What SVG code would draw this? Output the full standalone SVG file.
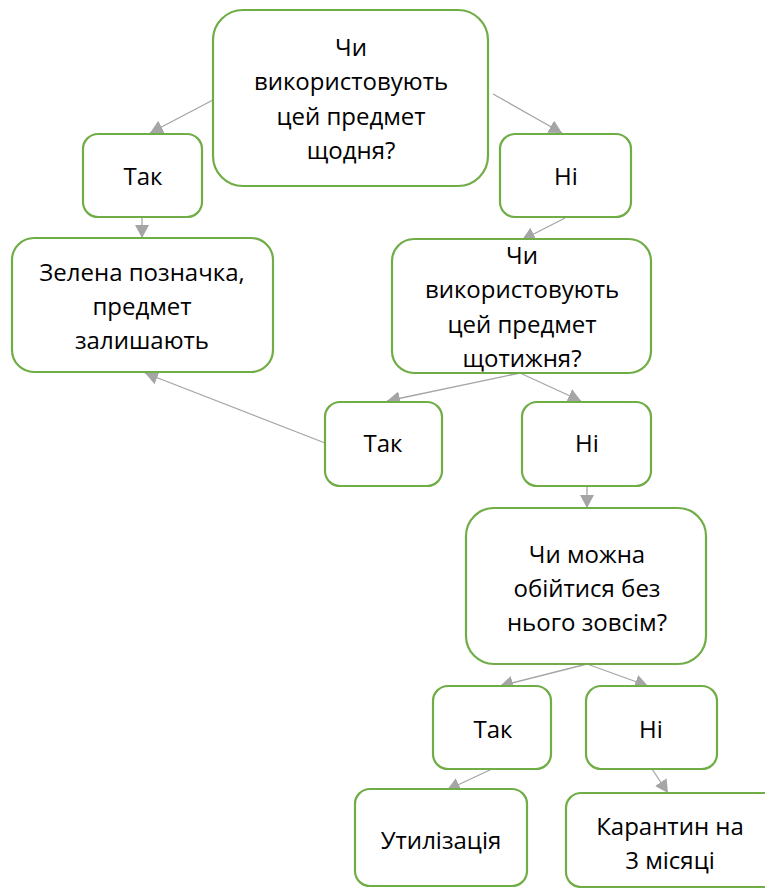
<svg xmlns="http://www.w3.org/2000/svg" width="765" height="888" viewBox="0 0 765 888">
<defs>
<marker id="ah" markerUnits="userSpaceOnUse" markerWidth="14" markerHeight="14" viewBox="0 0 14 14" refX="13" refY="7" orient="auto">
<path d="M0,0 L13,7 L0,14 Z" fill="#A5A5A5"/>
</marker>
<style>
.box{fill:#fff;stroke:#70AD47;stroke-width:2.2}
.t{font-family:"Open Sans","Noto Sans",sans-serif;font-size:24px;fill:#000;text-anchor:middle}
.c{stroke:#A5A5A5;stroke-width:1.3;fill:none;marker-end:url(#ah)}
</style>
</defs>
<rect width="765" height="888" fill="#fff"/>
<g id="connectors">
<line class="c" x1="213" y1="100" x2="150" y2="133"/>
<line class="c" x1="493" y1="94" x2="562" y2="133"/>
<line class="c" x1="142" y1="217" x2="142" y2="238"/>
<line class="c" x1="565" y1="218" x2="522" y2="240"/>
<line class="c" x1="520" y1="373" x2="387" y2="401"/>
<line class="c" x1="520" y1="373" x2="581" y2="401"/>
<line class="c" x1="325" y1="443" x2="145" y2="373"/>
<line class="c" x1="587" y1="486" x2="587" y2="508"/>
<line class="c" x1="587" y1="664" x2="500" y2="686"/>
<line class="c" x1="587" y1="664" x2="648" y2="686"/>
<line class="c" x1="492" y1="769" x2="447" y2="790"/>
<line class="c" x1="652" y1="769" x2="668" y2="793"/>
</g>
<g id="q1">
<rect class="box" x="213" y="10" width="275" height="176" rx="30"/>
<text class="t" x="351" y="56">Чи</text>
<text class="t" x="351" y="90">використовують</text>
<text class="t" x="351" y="125">цей предмет</text>
<text class="t" x="351" y="159">щодня?</text>
</g>
<g id="yes1">
<rect class="box" x="83" y="134" width="119" height="83" rx="15"/>
<text class="t" x="143" y="185">Так</text>
</g>
<g id="no1">
<rect class="box" x="500" y="134" width="131" height="83" rx="15"/>
<text class="t" x="566" y="185">Ні</text>
</g>
<g id="green">
<rect class="box" x="12" y="238" width="261" height="134" rx="22"/>
<text class="t" x="142" y="281">Зелена позначка,</text>
<text class="t" x="142" y="315">предмет</text>
<text class="t" x="142" y="349">залишають</text>
</g>
<g id="q2">
<rect class="box" x="392" y="239" width="259" height="134" rx="22"/>
<text class="t" x="522" y="264">Чи</text>
<text class="t" x="522" y="298">використовують</text>
<text class="t" x="522" y="333">цей предмет</text>
<text class="t" x="522" y="367">щотижня?</text>
</g>
<g id="yes2">
<rect class="box" x="325" y="402" width="117" height="84" rx="15"/>
<text class="t" x="383" y="452">Так</text>
</g>
<g id="no2">
<rect class="box" x="522" y="402" width="129" height="84" rx="15"/>
<text class="t" x="587" y="452">Ні</text>
</g>
<g id="q3">
<rect class="box" x="466" y="508" width="240" height="156" rx="28"/>
<text class="t" x="587" y="563">Чи можна</text>
<text class="t" x="587" y="597">обійтися без</text>
<text class="t" x="587" y="631">нього зовсім?</text>
</g>
<g id="yes3">
<rect class="box" x="433" y="686" width="118" height="83" rx="15"/>
<text class="t" x="493" y="738">Так</text>
</g>
<g id="no3">
<rect class="box" x="586" y="686" width="131" height="83" rx="15"/>
<text class="t" x="651" y="738">Ні</text>
</g>
<g id="dispose">
<rect class="box" x="355" y="789" width="172" height="97" rx="15"/>
<text class="t" x="441" y="849">Утилізація</text>
</g>
<g id="quarantine">
<rect class="box" x="566" y="793" width="220" height="94" rx="15"/>
<text class="t" x="670" y="835">Карантин на</text>
<text class="t" x="670" y="869">3 місяці</text>
</g>
</svg>
